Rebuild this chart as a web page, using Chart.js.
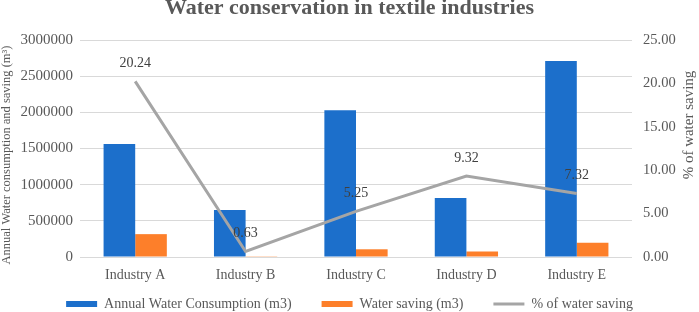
<!DOCTYPE html>
<html>
<head>
<meta charset="utf-8">
<script src="https://cdn.jsdelivr.net/npm/chart.js@4"></script>
<style>
html,body{margin:0;padding:0;background:#ffffff;}
#wrap{width:699px;height:312px;position:relative;}
</style>
</head>
<body>
<div id="wrap"><canvas id="c" width="699" height="312"></canvas></div>
<script>
const categories = ["Industry A", "Industry B", "Industry C", "Industry D", "Industry E"];
const annualConsumption = [1562000, 650000, 2030000, 815000, 2710000];
const waterSaving = [316000, 4100, 106600, 76000, 198000];
const percentSaving = [20.24, 0.63, 5.25, 9.32, 7.32];
const leftTickValues = [0, 500000, 1000000, 1500000, 2000000, 2500000, 3000000];
const rightTickValues = [0, 5, 10, 15, 20, 25];
const seriesNames = ["Annual Water Consumption (m3)", "Water saving (m3)", "% of water saving"];
const chartTitle = "Water conservation in textile industries";
const leftAxisTitle = "Annual Water consumption and saving (m\u00B3)";
const rightAxisTitle = "% of water saving";

const SERIF = "'Liberation Serif', 'Times New Roman', serif";
const TXT = "#595959";

const dataLabelPlugin = {
  id: 'lineLabels',
  afterDatasetsDraw(chart) {
    const meta = chart.getDatasetMeta(2);
    const ctx = chart.ctx;
    ctx.save();
    ctx.font = "14px " + SERIF;
    ctx.fillStyle = "#404040";
    ctx.textAlign = "center";
    ctx.textBaseline = "middle";
    meta.data.forEach((pt, i) => {
      ctx.fillText(percentSaving[i].toFixed(2), pt.x, pt.y - 18);
    });
    ctx.restore();
  }
};

const axisTitlePlugin = {
  id: 'axisTitles',
  afterDraw(chart) {
    const ctx = chart.ctx;
    ctx.save();
    ctx.fillStyle = TXT;
    ctx.textAlign = "center";
    ctx.textBaseline = "middle";
    ctx.font = "12.5px " + SERIF;
    ctx.translate(7, 155);
    ctx.rotate(-Math.PI / 2);
    ctx.fillText(leftAxisTitle, 0, 0);
    ctx.restore();
    ctx.save();
    ctx.fillStyle = TXT;
    ctx.textAlign = "center";
    ctx.textBaseline = "middle";
    ctx.font = "15px " + SERIF;
    ctx.translate(689, 125);
    ctx.rotate(-Math.PI / 2);
    ctx.fillText(rightAxisTitle, 0, 0);
    ctx.restore();
  }
};

const legendShiftPlugin = {
  id: 'legendShift',
  afterLayout(chart) {
    if (chart.legend) {
      chart.legend.top = 267;
    }
  }
};

new Chart(document.getElementById('c'), {
  data: {
    labels: categories,
    datasets: [
      {
        type: 'bar',
        label: seriesNames[0],
        data: annualConsumption,
        backgroundColor: '#1C6FCB',
        yAxisID: 'y',
        order: 1,
        categoryPercentage: 0.573,
        barPercentage: 1.0
      },
      {
        type: 'bar',
        label: seriesNames[1],
        data: waterSaving,
        backgroundColor: '#FD7F2A',
        yAxisID: 'y',
        order: 1,
        categoryPercentage: 0.573,
        barPercentage: 1.0
      },
      {
        type: 'line',
        label: seriesNames[2],
        data: percentSaving,
        borderColor: '#A5A5A5',
        backgroundColor: '#A5A5A5',
        borderWidth: 3,
        pointRadius: 0,
        tension: 0,
        yAxisID: 'y1',
        order: 0
      }
    ]
  },
  options: {
    responsive: false,
    animation: false,
    devicePixelRatio: 1,
    layout: { padding: 0 },
    plugins: {
      title: {
        display: true,
        text: chartTitle,
        color: TXT,
        font: { family: SERIF, size: 22, weight: 'bold', lineHeight: 0.75 },
        padding: { top: 0, bottom: 23.5 }
      },
      legend: {
        display: true,
        position: 'bottom',
        maxHeight: 28,
        labels: {
          usePointStyle: true,
          pointStyleWidth: 31,
          boxHeight: 6,
          padding: 30,
          color: TXT,
          font: { family: SERIF, size: 14 },
          generateLabels(chart) {
            return chart.data.datasets.map((ds, i) => ({
              text: ds.label,
              fillStyle: ds.backgroundColor,
              strokeStyle: i === 2 ? ds.borderColor : ds.backgroundColor,
              lineWidth: i === 2 ? 3 : 0,
              pointStyle: i === 2 ? 'line' : 'rect',
              hidden: false,
              datasetIndex: i,
              fontColor: TXT
            }));
          }
        }
      },
      tooltip: { enabled: false }
    },
    scales: {
      x: {
        offset: true,
        grid: { display: false, drawTicks: false },
        border: { display: false },
        ticks: { color: TXT, font: { family: SERIF, size: 14 }, padding: 10 },
        afterFit(s) { s.height = 27; }
      },
      y: {
        position: 'left',
        min: 0,
        max: 3000000,
        afterBuildTicks(s) { s.ticks = leftTickValues.map(v => ({ value: v })); },
        ticks: {
          color: TXT,
          font: { family: SERIF, size: 15 },
          padding: 7,
          callback: v => String(v)
        },
        grid: { color: '#D9D9D9', lineWidth: 1, drawTicks: false },
        border: { display: false },
        afterFit(s) { s.width = 80; }
      },
      y1: {
        position: 'right',
        min: 0,
        max: 25,
        afterBuildTicks(s) { s.ticks = rightTickValues.map(v => ({ value: v })); },
        ticks: {
          color: TXT,
          font: { family: SERIF, size: 14.5 },
          padding: 11,
          callback: v => Number(v).toFixed(2)
        },
        grid: { display: false, drawTicks: false },
        border: { display: false },
        afterFit(s) { s.width = 67; }
      }
    }
  },
  plugins: [dataLabelPlugin, axisTitlePlugin, legendShiftPlugin]
});
</script>
</body>
</html>
